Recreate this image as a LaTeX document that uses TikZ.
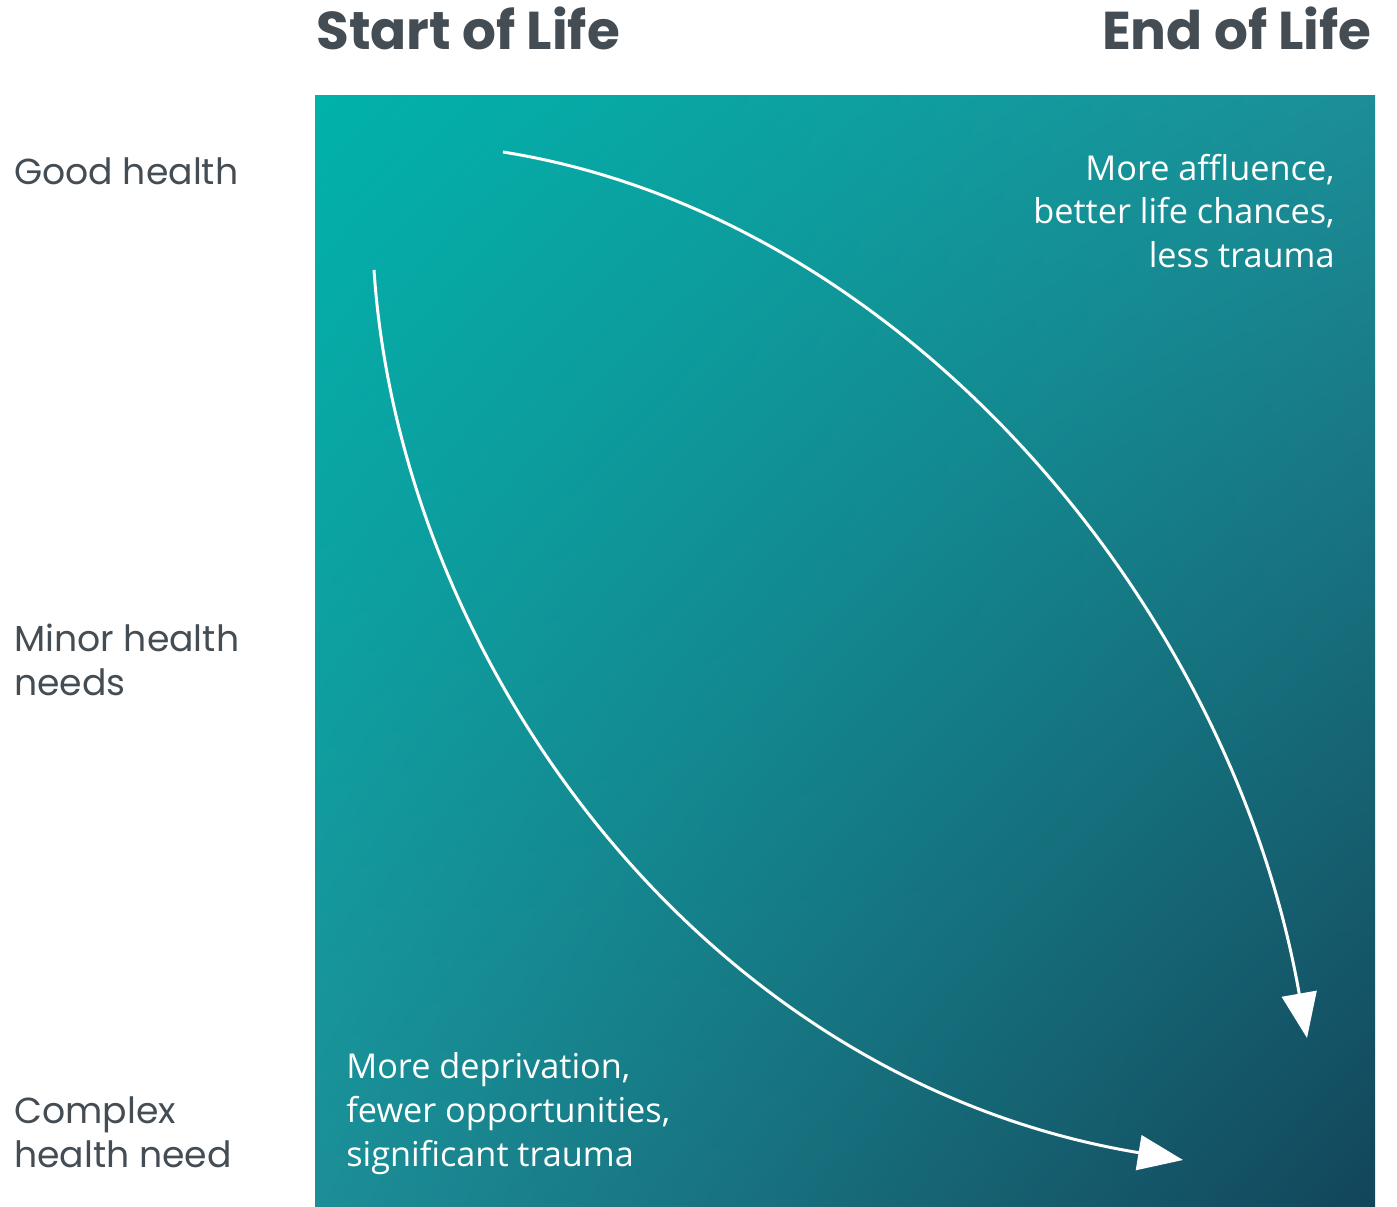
\documentclass[tikz,border=0pt]{standalone}
\usepackage{fontspec}
\setmainfont{Poppins}
\newfontfamily\notefont{Open Sans}
\usetikzlibrary{arrows.meta,shadings}
\definecolor{tealtop}{HTML}{00B2AA}
\definecolor{tealmid}{HTML}{1C8E97}
\definecolor{tealbot}{HTML}{12455A}
\definecolor{labelgrey}{HTML}{444D54}
\tikzset{
	axislabel/.style={font=\fontsize{20.6}{25}\selectfont, text=labelgrey, align=left, anchor=west, inner sep=0pt},
	headlabel/.style={font=\fontsize{30.3}{36}\selectfont\bfseries, text=labelgrey, inner sep=0pt},
	notelabel/.style={font=\notefont\fontsize{19.5}{25}\selectfont, text=white, inner sep=0pt},
	lifepath/.style={draw=white, line width=1.7pt, -{Triangle[length=0.9cm, width=0.7cm]}}
}

\begin{document}
\begin{tikzpicture}[x=0.02cm, y=-0.02cm]
		%%%%% START %%%%%
		
		\useasboundingbox (0, 0) rectangle (1397, 1207);
		
		\shade[upper left=tealtop, lower right=tealbot, upper right=tealmid, lower left=tealmid] (315, 95) rectangle (1375, 1207);
		
		\node[headlabel, anchor=south west] (start) at (316, 50) {Start of Life};
		\node[headlabel, anchor=south east] (end) at (1372, 50) {End of Life};
		
		\node[axislabel] (good) at (14, 171) {Good health};
		\node[axislabel] (minor) at (14, 660) {Minor health\\needs};
		\node[axislabel] (complex) at (14, 1132) {Complex\\health need};
		
		\node[notelabel, align=right, anchor=east] (affluence) at (1335, 211) {More affluence,\\better life chances,\\less trauma};
		\node[notelabel, align=left, anchor=west] (deprivation) at (346, 1114) {More deprivation,\\fewer opportunities,\\significant trauma};
		
		\coordinate (upfrom) at (503, 152);
		\coordinate (upto) at (1307, 1038);
		\coordinate (lowfrom) at (374, 270);
		\coordinate (lowto) at (1183, 1160);
		
		\draw[lifepath] (upfrom) .. controls (900, 215) and (1230, 600) .. (upto);
		\draw[lifepath] (lowfrom) .. controls (400, 660) and (700, 1080) .. (lowto);
		
		%%%%% END %%%%%
	\end{tikzpicture}
\end{document}
